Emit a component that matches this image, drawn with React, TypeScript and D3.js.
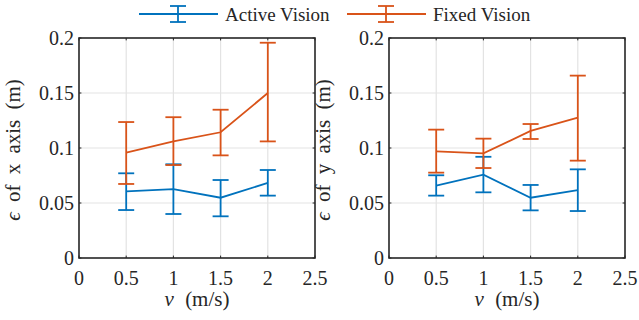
import React from "react";
import * as d3 from "d3";

// speeds (m/s)
const speeds = [0.5, 1, 1.5, 2];

// x axis error: Active Vision
const activeXMean = [0.0606, 0.0627, 0.0548, 0.0682];
const activeXLow = [0.0436, 0.04, 0.0379, 0.0567];
const activeXHigh = [0.077, 0.0852, 0.0709, 0.08];
// x axis error: Fixed Vision
const fixedXMean = [0.0957, 0.106, 0.1143, 0.15];
const fixedXLow = [0.0673, 0.0845, 0.0933, 0.106];
const fixedXHigh = [0.1236, 0.128, 0.1348, 0.1957];

// y axis error: Active Vision
const activeYMean = [0.0658, 0.0758, 0.0548, 0.0618];
const activeYLow = [0.0567, 0.0597, 0.0433, 0.0427];
const activeYHigh = [0.0752, 0.092, 0.0664, 0.0806];
// y axis error: Fixed Vision
const fixedYMean = [0.097, 0.0952, 0.1155, 0.1276];
const fixedYLow = [0.0776, 0.0818, 0.1082, 0.0885];
const fixedYHigh = [0.1167, 0.1085, 0.1218, 0.1658];

const xTicks = [0, 0.5, 1, 1.5, 2, 2.5];
const yTicks = [0, 0.05, 0.1, 0.15, 0.2];
const legendLabels = ["Active Vision", "Fixed Vision"];

const BLUE = "#0072BD";
const ORANGE = "#D95319";
const AXIS = "#262626";
const GRID = "#e3e3e3";
const FONT = "'Liberation Serif', 'DejaVu Serif', serif";

type Series = { mean: number[]; low: number[]; high: number[]; color: string };

const Panel = ({
  left,
  label,
  series,
}: {
  left: number;
  label: string;
  series: Series[];
}) => {
  const top = 38;
  const bottom = 258;
  const w = 236;
  const x = d3.scaleLinear().domain([0, 2.5]).range([left, left + w]);
  const y = d3.scaleLinear().domain([0, 0.2]).range([bottom, top]);
  const tick = 2.4;
  const cap = 8;

  const line = d3
    .line<number>()
    .x((_, i) => x(speeds[i]))
    .y((d) => y(d));

  return (
    <g>
      {/* grid */}
      {xTicks.slice(1, -1).map((t) => (
        <line key={"gx" + t} x1={x(t)} x2={x(t)} y1={top} y2={bottom} stroke={GRID} strokeWidth={1.2} />
      ))}
      {yTicks.slice(1, -1).map((t) => (
        <line key={"gy" + t} x1={left} x2={left + w} y1={y(t)} y2={y(t)} stroke={GRID} strokeWidth={1.2} />
      ))}

      {/* data */}
      {series.map((s, k) => (
        <g key={k} stroke={s.color} strokeWidth={1.8} fill="none">
          <path d={line(s.mean) || ""} />
          {speeds.map((v, i) => (
            <g key={i}>
              <line x1={x(v)} x2={x(v)} y1={y(s.low[i])} y2={y(s.high[i])} />
              <line x1={x(v) - cap} x2={x(v) + cap} y1={y(s.low[i])} y2={y(s.low[i])} />
              <line x1={x(v) - cap} x2={x(v) + cap} y1={y(s.high[i])} y2={y(s.high[i])} />
            </g>
          ))}
        </g>
      ))}

      {/* box and ticks */}
      <rect x={left} y={top} width={w} height={bottom - top} fill="none" stroke={AXIS} strokeWidth={1.6} />
      {xTicks.map((t) => (
        <g key={"tx" + t} stroke={AXIS} strokeWidth={1}>
          <line x1={x(t)} x2={x(t)} y1={bottom} y2={bottom - tick} />
          <line x1={x(t)} x2={x(t)} y1={top} y2={top + tick} />
        </g>
      ))}
      {yTicks.map((t) => (
        <g key={"ty" + t} stroke={AXIS} strokeWidth={1}>
          <line x1={left} x2={left + tick} y1={y(t)} y2={y(t)} />
          <line x1={left + w} x2={left + w - tick} y1={y(t)} y2={y(t)} />
        </g>
      ))}

      {/* tick labels */}
      {xTicks.map((t) => (
        <text key={"lx" + t} x={x(t)} y={285} textAnchor="middle" fontSize={20} fill={AXIS}>
          {d3.format("~g")(t)}
        </text>
      ))}
      {yTicks.map((t) => (
        <text key={"ly" + t} x={left - 5} y={y(t) + 7} textAnchor="end" fontSize={20} fill={AXIS}>
          {d3.format("~g")(t)}
        </text>
      ))}

      {/* axis labels */}
      <text x={left + w / 2} y={306} textAnchor="middle" fontSize={21} wordSpacing={6} fill={AXIS}>
        <tspan fontStyle="italic">v</tspan> (m/s)
      </text>
      <text
        transform={`translate(${left - 59},150) rotate(-90)`}
        textAnchor="middle"
        fontSize={21}
        wordSpacing={5}
        fill={AXIS}
      >
        <tspan fontStyle="italic">ϵ</tspan> {label} (m)
      </text>
    </g>
  );
};

const LegendItem = ({ x0, color, text }: { x0: number; color: string; text: string }) => {
  const cx = x0 + 39;
  return (
    <g>
      <g stroke={color} strokeWidth={1.8}>
        <line x1={x0} x2={x0 + 79} y1={14} y2={14} />
        <line x1={cx} x2={cx} y1={6} y2={22} />
        <line x1={cx - 8} x2={cx + 8} y1={6} y2={6} />
        <line x1={cx - 8} x2={cx + 8} y1={22} y2={22} />
      </g>
      <text x={x0 + 86} y={21} fontSize={19} fill={AXIS}>
        {text}
      </text>
    </g>
  );
};

export default function App() {
  return (
    <div style={{ position: "absolute", left: 0, top: 0, fontFamily: FONT }}>
      <svg width={639} height={320} style={{ display: "block", background: "#fff", fontFamily: FONT }}>
        <Panel
          left={79}
          label="of x axis"
          series={[
            { mean: activeXMean, low: activeXLow, high: activeXHigh, color: BLUE },
            { mean: fixedXMean, low: fixedXLow, high: fixedXHigh, color: ORANGE },
          ]}
        />
        <Panel
          left={389}
          label="of y axis"
          series={[
            { mean: activeYMean, low: activeYLow, high: activeYHigh, color: BLUE },
            { mean: fixedYMean, low: fixedYLow, high: fixedYHigh, color: ORANGE },
          ]}
        />
        <LegendItem x0={139} color={BLUE} text={legendLabels[0]} />
        <LegendItem x0={347} color={ORANGE} text={legendLabels[1]} />
      </svg>
    </div>
  );
}
